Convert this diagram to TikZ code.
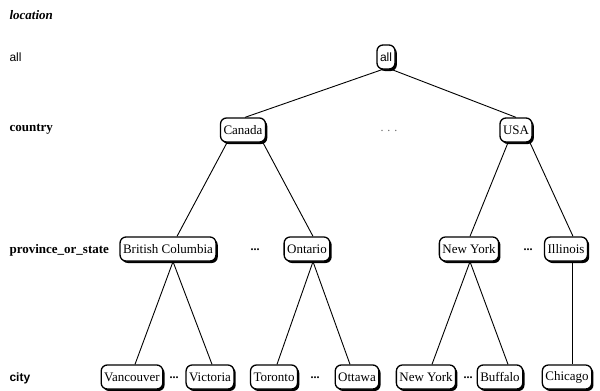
\documentclass[tikz,border=0pt]{standalone}
\usepackage{fontspec}
\setmainfont{Liberation Serif}
\setsansfont{Liberation Sans}
\usetikzlibrary{shadows,calc}
\begin{document}
\begin{tikzpicture}[x=1pt,y=-1pt,
  box/.style={draw=black,line width=1.3pt,rounded corners=6pt,fill=white,
    inner xsep=3pt,inner ysep=0pt,minimum height=24pt,font=\fontsize{13}{13}\selectfont,
    drop shadow={shadow xshift=1.8pt,shadow yshift=-2pt,fill=black,opacity=1}},
  lvl/.style={anchor=west,font=\fontsize{13}{13}\selectfont\bfseries},
  dots/.style={font=\fontsize{12}{12}\selectfont\bfseries},
  edge/.style={line width=0.9pt}]
\useasboundingbox (0,0) rectangle (600,391);
% level labels
\node[anchor=west,font=\fontsize{13}{13}\selectfont\bfseries\itshape] (Llocation) at (6,15) {location};
\node[anchor=west,font=\fontsize{12}{12}\selectfont\sffamily] (Lall) at (6,57) {all};
\node[lvl] (Lcountry) at (6,129) {country};
\node[lvl] (Lprov) at (6,250) {province\_or\_state};
\node[anchor=west,font=\fontsize{12}{12}\selectfont\sffamily\bfseries] (Lcity) at (6,378) {city};
% nodes
\node[box,font=\fontsize{12}{12}\selectfont\sffamily] (all) at (386,57) {all};
\node[box] (canada) at (243,130) {Canada};
\node[font=\fontsize{12}{12}\selectfont,text=black!60] (d1) at (389,131) {.\hspace{4pt}.\hspace{4pt}.};
\node[box] (usa) at (516,130) {USA};
\node[box] (bc) at (168,249) {British Columbia};
\node[dots] (d2) at (255,250) {...};
\node[box] (ontario) at (307,249) {Ontario};
\node[box] (ny) at (469,249) {New York};
\node[dots] (d3) at (528,250) {...};
\node[box] (illinois) at (566,249) {Illinois};
\node[box] (vancouver) at (132,377) {Vancouver};
\node[dots] (d4) at (174,378) {...};
\node[box] (victoria) at (210,377) {Victoria};
\node[box] (toronto) at (274,377) {Toronto};
\node[dots] (d5) at (315,378) {...};
\node[box] (ottawa) at (357,377) {Ottawa};
\node[box] (nyc) at (426,377) {New York};
\node[dots] (d6) at (468,378) {...};
\node[box] (buffalo) at (500,377) {Buffalo};
\node[box] (chicago) at (567,377) {Chicago};
% edges
\draw[edge] ($(all.south)+(-4,0)$) -- ($(canada.north)+(2,0)$);
\draw[edge] ($(all.south)+(6,0)$) -- (usa.north);
\draw[edge] ($(canada.south)+(-16,0)$) -- ($(bc.north)+(9,0)$);
\draw[edge] ($(canada.south)+(20,0)$) -- ($(ontario.north)+(6,0)$);
\draw[edge] ($(usa.south)+(-8,0)$) -- ($(ny.north)+(1,0)$);
\draw[edge] ($(usa.south)+(14,0)$) -- ($(illinois.north)+(7,0)$);
\draw[edge] ($(bc.south)+(5,0)$) -- ($(vancouver.north)+(3,0)$);
\draw[edge] ($(bc.south)+(5,0)$) -- ($(victoria.north)+(2,0)$);
\draw[edge] ($(ontario.south)+(6,0)$) -- ($(toronto.north)+(3,0)$);
\draw[edge] ($(ontario.south)+(6,0)$) -- ($(ottawa.north)+(-7,0)$);
\draw[edge] ($(ny.south)+(1,0)$) -- ($(nyc.north)+(6,0)$);
\draw[edge] ($(ny.south)+(1,0)$) -- ($(buffalo.north)+(8,0)$);
\draw[edge] ($(illinois.south)+(6,0)$) -- ($(chicago.north)+(5,0)$);
\end{tikzpicture}
\end{document}
